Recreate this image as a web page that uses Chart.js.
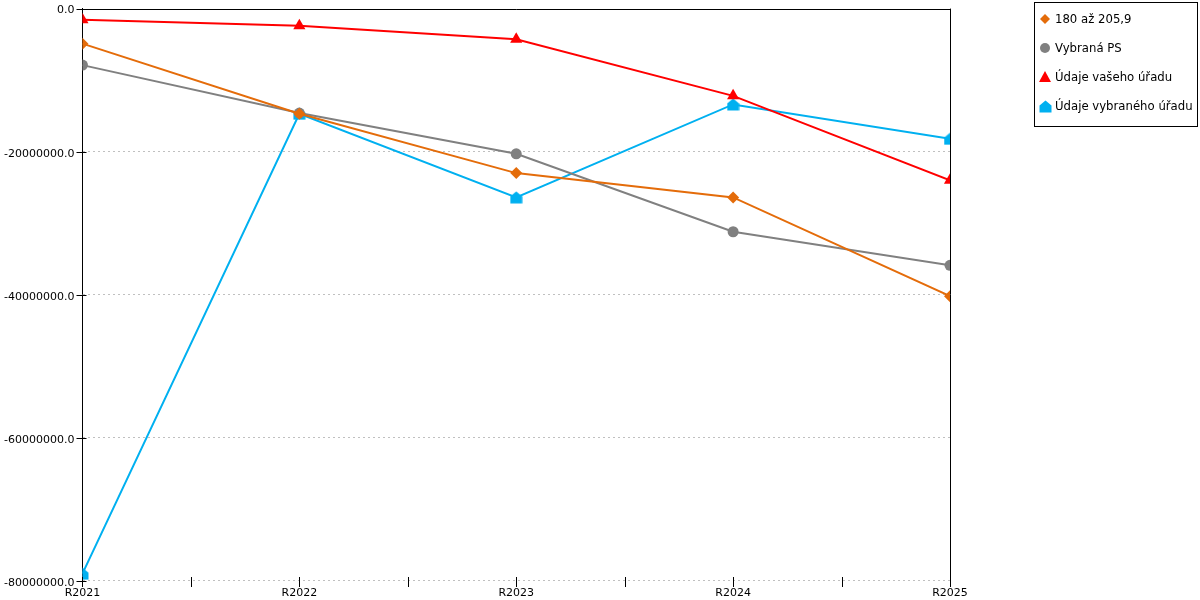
<!DOCTYPE html>
<html>
<head>
<meta charset="utf-8">
<script src="https://cdn.jsdelivr.net/npm/chart.js@4/dist/chart.umd.min.js"></script>
<style>
html,body{margin:0;padding:0;background:#fff;}
#wrap{position:relative;width:1200px;height:600px;}
</style>
</head>
<body>
<div id="wrap"><canvas id="c" width="1200" height="600"></canvas></div>
<script>
const categories = ["R2021", "R2022", "R2023", "R2024", "R2025"];
const seriesNames = ["180 až 205,9", "Vybraná PS", "Údaje vašeho úřadu", "Údaje vybraného úřadu"];
const valuesRange = [-4900000, -14700000, -23000000, -26400000, -40200000];
const valuesPS = [-7900000, -14600000, -20300000, -31200000, -35900000];
const valuesOwn = [-1550000, -2400000, -4300000, -12200000, -24000000];
const valuesSelected = [-79000000, -14700000, -26400000, -13400000, -18200000];
const yTicks = [0, -20000000, -40000000, -60000000, -80000000];

const colors = ["#E46C0A", "#808080", "#FF0000", "#00B0F0"];

function houseCanvas(color, size) {
  const c = document.createElement('canvas');
  c.width = size; c.height = size;
  const g = c.getContext('2d');
  g.fillStyle = color;
  g.beginPath();
  g.moveTo(size / 2, 0.5);
  g.lineTo(size - 0.5, size * 0.42);
  g.lineTo(size - 0.5, size - 0.5);
  g.lineTo(0.5, size - 0.5);
  g.lineTo(0.5, size * 0.42);
  g.closePath();
  g.fill();
  return c;
}
const houseImg = houseCanvas(colors[3], 13);

function toXY(vals) { return vals.map((v, i) => ({x: i, y: v})); }

const datasets = [
  {label: seriesNames[0], data: toXY(valuesRange), borderColor: colors[0], backgroundColor: colors[0], pointStyle: 'rectRot', pointRadius: 6},
  {label: seriesNames[1], data: toXY(valuesPS), borderColor: colors[1], backgroundColor: colors[1], pointStyle: 'circle', pointRadius: 5.5},
  {label: seriesNames[2], data: toXY(valuesOwn), borderColor: colors[2], backgroundColor: colors[2], pointStyle: 'triangle', pointRadius: 7},
  {label: seriesNames[3], data: toXY(valuesSelected), borderColor: colors[3], backgroundColor: colors[3], pointStyle: houseImg, pointRadius: 6}
].map(d => Object.assign(d, {borderWidth: 2, pointBorderWidth: 0, tension: 0, fill: false}));

const frame = {
  id: 'frame',
  afterDatasetsDraw(chart) {
    const {ctx, chartArea: a} = chart;
    ctx.save();
    ctx.strokeStyle = '#000';
    ctx.lineWidth = 1;
    ctx.beginPath();
    ctx.moveTo(a.left, Math.round(a.top) + 0.5);
    ctx.lineTo(a.right, Math.round(a.top) + 0.5);
    ctx.moveTo(Math.round(a.right) + 0.5, a.top);
    ctx.lineTo(Math.round(a.right) + 0.5, a.bottom);
    // tick marks crossing the axes
    const ys = chart.scales.y, xs = chart.scales.x;
    const lx = Math.round(a.left) + 0.5;
    ys.ticks.forEach(t => {
      const py = Math.round(ys.getPixelForValue(t.value)) + 0.5;
      ctx.moveTo(lx - 6, py); ctx.lineTo(lx + 4, py);
    });
    const by = Math.round(a.bottom);
    xs.ticks.forEach(t => {
      const px = Math.round(xs.getPixelForValue(t.value)) + 0.5;
      ctx.moveTo(px, by - 4); ctx.lineTo(px, by + 6);
    });
    ctx.stroke();
    ctx.restore();
  },
  afterDraw(chart) {
    const ctx = chart.ctx;
    ctx.save();
    const bx = 1034.5, by = 2.5, bw = 163, bh = 124;
    ctx.fillStyle = '#fff';
    ctx.fillRect(bx, by, bw, bh);
    ctx.strokeStyle = '#000';
    ctx.lineWidth = 1;
    ctx.strokeRect(bx, by, bw, bh);
    ctx.font = '11.7px "DejaVu Sans"';
    ctx.textBaseline = 'middle';
    ctx.textAlign = 'left';
    chart.data.datasets.forEach((ds, i) => {
      const y = 19 + i * 29;
      const x = 1045;
      ctx.fillStyle = ds.backgroundColor;
      const ps = ds.pointStyle;
      if (ps === 'rectRot') {
        ctx.beginPath();
        ctx.moveTo(x, y - 5); ctx.lineTo(x + 5, y); ctx.lineTo(x, y + 5); ctx.lineTo(x - 5, y); ctx.closePath(); ctx.fill();
      } else if (ps === 'circle') {
        ctx.beginPath(); ctx.arc(x, y, 5, 0, Math.PI * 2); ctx.fill();
      } else if (ps === 'triangle') {
        ctx.beginPath(); ctx.moveTo(x, y - 6); ctx.lineTo(x + 6, y + 5); ctx.lineTo(x - 6, y + 5); ctx.closePath(); ctx.fill();
      } else {
        ctx.drawImage(ps, x - 6, y - 6);
      }
      ctx.fillStyle = '#000';
      ctx.fillText(ds.label, 1055, y + 0.5);
    });
    ctx.restore();
  }
};

new Chart(document.getElementById('c'), {
  type: 'line',
  data: {datasets},
  options: {
    responsive: false,
    animation: false,
    devicePixelRatio: 1,
    layout: {padding: {top: 5, right: 250, left: 2, bottom: 0}},
    plugins: {legend: {display: false}, tooltip: {enabled: false}},
    scales: {
      x: {
        type: 'linear', min: 0, max: 4,
        afterBuildTicks(axis) {
          const t = [];
          for (let i = 0; i <= categories.length - 1; i += 0.5) t.push({value: i});
          axis.ticks = t;
        },
        ticks: {
          autoSkip: false, maxRotation: 0, padding: 0,
          color: '#000', font: {family: 'DejaVu Sans', size: 11},
          callback: (v) => Number.isInteger(v) ? categories[v] : ''
        },
        grid: {drawOnChartArea: false, drawTicks: true, tickLength: 6, tickColor: 'rgba(0,0,0,0)'},
        border: {display: false}
      },
      y: {
        min: -80000000, max: 0,
        afterBuildTicks(axis) { axis.ticks = yTicks.map(v => ({value: v})); },
        ticks: {
          color: '#000', font: {family: 'DejaVu Sans', size: 11}, padding: 2, labelOffset: 2,
          callback: (v) => v.toFixed(1)
        },
        grid: {
          color: (c) => c.tick && c.tick.value === 0 ? 'rgba(0,0,0,0)' : '#C0C0C0',
          tickColor: 'rgba(0,0,0,0)', tickLength: 6, drawTicks: true
        },
        border: {display: true, color: '#000', width: 1, dash: [2, 3], dashOffset: 0}
      }
    }
  },
  plugins: [frame]
});
</script>
</body>
</html>
